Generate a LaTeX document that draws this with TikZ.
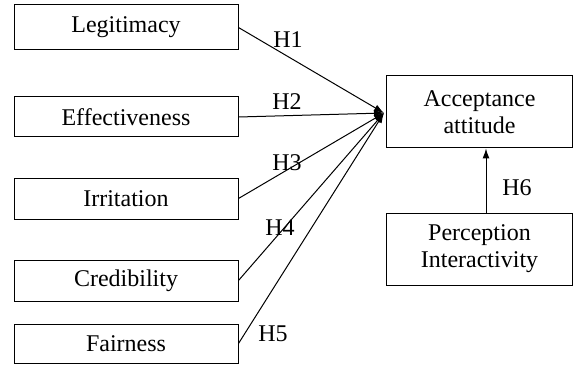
\documentclass[tikz,border=0pt]{standalone}
\usepackage{fontspec}
\setmainfont{Liberation Serif}
\usepackage{tikz}
\usetikzlibrary{arrows.meta}

\begin{document}
\begin{tikzpicture}[x=0.5pt,y=-0.5pt,font=\fontsize{12}{13.5}\selectfont,line width=0.5pt,
  factor/.style={draw,minimum width=112pt,inner sep=0pt},
  outcome/.style={draw,minimum width=93pt,minimum height=36pt,align=center,inner sep=0pt},
  link/.style={-{Latex[length=5pt,width=3.5pt]}}]
  \useasboundingbox (0,0) rectangle (573,374);
  % left side factors
  \node[factor,minimum height=22.5pt] (legit) at (126,27.5) {Legitimacy};
  \node[factor,minimum height=20pt] (effect) at (126,117) {Effectiveness};
  \node[factor,minimum height=20.5pt] (irrit) at (126,198.5) {Irritation};
  \node[factor,minimum height=20.5pt] (cred) at (126,280.5) {Credibility};
  \node[factor,minimum height=19.5pt] (fair) at (126,343.5) {Fairness};
  % right side
  \node[outcome] (accept) at (479.5,112) {Acceptance\\attitude};
  \node[outcome] (percep) at (479.5,249) {Perception\\Interactivity};
  \coordinate (hub) at (384,113);
  \draw[link] (legit.east) -- (hub);
  \draw[link] (effect.east) -- (hub);
  \draw[link] (irrit.east) -- (hub);
  \draw[link] (cred.east) -- (hub);
  \draw[link] (fair.east) -- (hub);
  \draw[link] (percep.north -| 486,0) -- (accept.south -| 486,0);
  % hypothesis labels
  \node (h1) at (288,40) {H1};
  \node (h2) at (287,102) {H2};
  \node (h3) at (287,163) {H3};
  \node (h4) at (280,228) {H4};
  \node (h5) at (273,334) {H5};
  \node (h6) at (517,188) {H6};
\end{tikzpicture}
\end{document}
